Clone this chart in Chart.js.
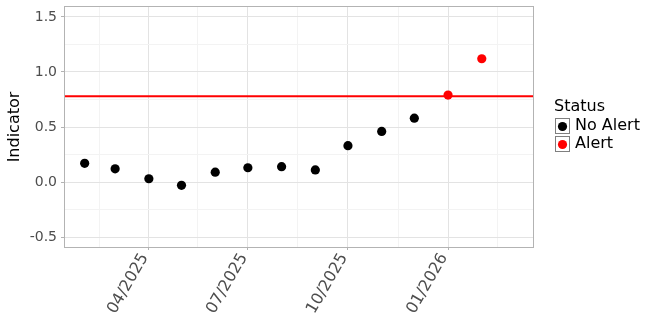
<!DOCTYPE html>
<html lang="en">
<head>
    <meta charset="UTF-8">
    <title>Indicator by month</title>
    <script src="https://cdn.jsdelivr.net/npm/chart.js@4/dist/chart.umd.min.js"></script>
    <style>
        * {
            margin: 0;
            padding: 0;
            box-sizing: border-box;
        }

        body {
            background: white;
        }

        .chart-box {
            width: 648px;
            height: 324px;
        }
    </style>
</head>
<body>
    <div class="chart-box">
        <canvas id="indicatorChart"></canvas>
    </div>

    <script>
        // data
        const dates = ['2025-02-01', '2025-03-01', '2025-04-01', '2025-05-01', '2025-06-01', '2025-07-01', '2025-08-01',
                       '2025-09-01', '2025-10-01', '2025-11-01', '2025-12-01', '2026-01-01', '2026-02-01'];
        const values = [0.17, 0.12, 0.03, -0.03, 0.09, 0.13, 0.14, 0.11, 0.33, 0.46, 0.58, 0.79, 1.12];
        const status = ['No Alert', 'No Alert', 'No Alert', 'No Alert', 'No Alert', 'No Alert', 'No Alert',
                        'No Alert', 'No Alert', 'No Alert', 'No Alert', 'Alert', 'Alert'];
        const threshold = 0.78;

        const statusLevels = ['No Alert', 'Alert'];
        const statusColors = ['#000000', '#ff0000'];

        const xTickDates = ['2025-04-01', '2025-07-01', '2025-10-01', '2026-01-01'];
        const xTickLabels = ['04/2025', '07/2025', '10/2025', '01/2026'];
        const xMinorDates = ['2025-02-15', '2025-05-16', '2025-08-16', '2025-11-16', '2026-02-15'];
        const yTicks = [-0.5, 0, 0.5, 1, 1.5];
        const yMinor = [-0.25, 0.25, 0.75, 1.25];

        // days counted from 1 Jan 2025
        function dayNum(s) {
            const p = s.split('-').map(Number);
            return (Date.UTC(p[0], p[1] - 1, p[2]) - Date.UTC(2025, 0, 1)) / 864e5;
        }

        const xMin = 12, xMax = 444;
        const yMin = -0.59, yMax = 1.59;
        const xMajor = xTickDates.map(dayNum);
        const xMinor = xMinorDates.map(dayNum);

        const pointSets = statusLevels.map((lvl, k) => ({
            type: 'scatter',
            label: lvl,
            data: dates.map((d, i) => ({ x: dayNum(d), y: values[i], s: status[i] })).filter(p => p.s === lvl),
            backgroundColor: statusColors[k],
            borderWidth: 0,
            pointRadius: 4.6,
            pointHoverRadius: 4.6,
            order: 1
        }));

        const thresholdSet = {
            type: 'line',
            label: 'threshold',
            data: [{ x: xMin, y: threshold }, { x: xMax, y: threshold }],
            borderColor: '#ff0000',
            borderWidth: 2,
            pointRadius: 0,
            order: 2
        };

        const isMajorX = v => xMajor.some(m => Math.abs(m - v) < 0.01);
        const isMajorY = v => yTicks.some(m => Math.abs(m - v) < 1e-6);

        // panel border + legend, ggplot style
        const frameAndLegend = {
            id: 'frameAndLegend',
            afterDraw(chart) {
                const ctx = chart.ctx;
                const a = chart.chartArea;
                ctx.save();
                ctx.strokeStyle = '#b3b3b3';
                ctx.lineWidth = 1;
                ctx.strokeRect(Math.round(a.left) + 0.5, Math.round(a.top) - 0.5,
                    Math.round(a.right - a.left) - 1, Math.round(a.bottom - a.top) + 1);

                ctx.font = '16px "DejaVu Sans"';
                ctx.textBaseline = 'middle';
                ctx.fillStyle = '#000';
                ctx.fillText('Status', 554, 107);
                statusLevels.forEach((lvl, k) => {
                    const cy = 126 + k * 18;
                    ctx.fillStyle = '#fff';
                    ctx.fillRect(555, cy - 8, 15, 16);
                    ctx.strokeStyle = '#7f7f7f';
                    ctx.strokeRect(555.5, cy - 7.5, 14, 15);
                    ctx.fillStyle = statusColors[k];
                    ctx.beginPath();
                    ctx.arc(562.5, cy + 0.5, 4.6, 0, Math.PI * 2);
                    ctx.fill();
                    ctx.fillStyle = '#000';
                    ctx.fillText(lvl, 575, cy);
                });
                ctx.restore();
            }
        };

        new Chart(document.getElementById('indicatorChart'), {
            data: { datasets: [...pointSets, thresholdSet] },
            options: {
                responsive: true,
                maintainAspectRatio: false,
                animation: false,
                layout: { padding: { top: 7, right: 114, left: 0, bottom: 0 } },
                plugins: {
                    legend: { display: false },
                    tooltip: { enabled: false }
                },
                scales: {
                    x: {
                        type: 'linear',
                        min: xMin,
                        max: xMax,
                        afterBuildTicks: s => {
                            s.ticks = [...xMajor, ...xMinor].sort((p, q) => p - q).map(v => ({ value: v }));
                        },
                        afterFit: s => {
                            s.height = 77;
                            s.paddingLeft = 0;
                            s.paddingRight = 0;
                        },
                        border: { display: false },
                        grid: {
                            color: c => isMajorX(c.tick.value) ? '#e3e3e3' : '#f3f3f3',
                            tickColor: c => isMajorX(c.tick.value) ? '#b3b3b3' : 'rgba(0,0,0,0)',
                            tickLength: 3,
                            lineWidth: 1
                        },
                        ticks: {
                            autoSkip: false,
                            minRotation: 60,
                            maxRotation: 60,
                            padding: 0,
                            labelOffset: -4,
                            color: '#4d4d4d',
                            font: { family: 'DejaVu Sans', size: 16 },
                            callback: v => {
                                const i = xMajor.findIndex(m => Math.abs(m - v) < 0.01);
                                return i >= 0 ? xTickLabels[i] : '';
                            }
                        }
                    },
                    y: {
                        min: yMin,
                        max: yMax,
                        afterBuildTicks: s => {
                            s.ticks = [...yTicks, ...yMinor].sort((p, q) => p - q).map(v => ({ value: v }));
                        },
                        afterFit: s => {
                            s.width = 64;
                            s.paddingTop = 0;
                            s.paddingBottom = 0;
                        },
                        border: { display: false },
                        grid: {
                            color: c => isMajorY(c.tick.value) ? '#e3e3e3' : '#f3f3f3',
                            tickColor: c => isMajorY(c.tick.value) ? '#b3b3b3' : 'rgba(0,0,0,0)',
                            tickLength: 3,
                            lineWidth: 1
                        },
                        ticks: {
                            padding: 4,
                            color: '#4d4d4d',
                            font: { family: 'DejaVu Sans', size: 14 },
                            callback: v => isMajorY(v) ? v.toFixed(1) : ''
                        },
                        title: {
                            display: true,
                            text: 'Indicator',
                            color: '#000',
                            font: { family: 'DejaVu Sans', size: 16 },
                            padding: { top: 5, bottom: 0 }
                        }
                    }
                }
            },
            plugins: [frameAndLegend]
        });
    </script>
</body>
</html>
